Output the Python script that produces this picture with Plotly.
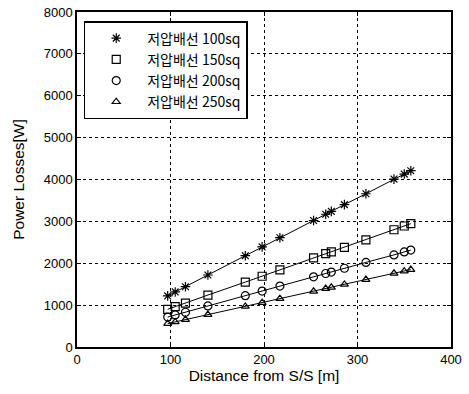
import plotly.graph_objects as go

distance = [97, 105, 116, 140, 180, 198, 217, 253, 266, 272, 286, 309, 339, 350, 357]
loss_100 = [1220, 1315, 1440, 1720, 2180, 2390, 2610, 3020, 3170, 3240, 3400, 3660, 4010, 4130, 4210]
loss_150 = [900, 965, 1050, 1240, 1550, 1690, 1840, 2130, 2230, 2270, 2380, 2560, 2800, 2890, 2945]
loss_200 = [715, 765, 830, 980, 1225, 1335, 1455, 1675, 1755, 1790, 1880, 2020, 2200, 2270, 2315]
loss_250 = [560, 600, 655, 775, 970, 1060, 1155, 1330, 1395, 1425, 1495, 1610, 1760, 1810, 1850]

series = [
    ("저압배선 100sq", loss_100, "asterisk-open", 8),
    ("저압배선 150sq", loss_150, "square-open", 8),
    ("저압배선 200sq", loss_200, "circle-open", 8),
    ("저압배선 250sq", loss_250, "triangle-up-open", 7),
]

fig = go.Figure()
for name, vals, sym, sz in series:
    fig.add_trace(go.Scatter(x=distance, y=vals, mode="lines", line=dict(color="black", width=1),
                             showlegend=False, hoverinfo="skip"))
    fig.add_trace(go.Scatter(x=distance, y=vals, mode="markers", name=name,
                             marker=dict(symbol=sym, size=sz, color="black", line=dict(color="black", width=1.2))))

font = "Liberation Sans, Arial, sans-serif"
fig.update_layout(
    width=469, height=394,
    margin=dict(l=77, r=18, t=12, b=47, autoexpand=False),
    paper_bgcolor="white", plot_bgcolor="white",
    font=dict(family=font, size=13, color="black"),
    legend=dict(x=0.018, y=0.973, xanchor="left", yanchor="top",
                bgcolor="white", bordercolor="black", borderwidth=1.5,
                font=dict(family="Noto Sans CJK KR, " + font, size=14),
                tracegroupgap=0, itemwidth=52),
)
axis_common = dict(showline=True, linecolor="black", linewidth=1.5, mirror="ticks",
                   ticks="inside", ticklen=4, tickcolor="black", tickwidth=1.2,
                   showgrid=True, gridcolor="black", griddash="3px,3px", gridwidth=1.2,
                   zeroline=False, tickfont=dict(size=13), automargin=False)
fig.update_xaxes(range=[0, 400], dtick=100,
                 title=dict(text="Distance from S/S [m]", standoff=2, font=dict(size=15.5)), **axis_common)
fig.update_yaxes(range=[0, 8000], dtick=1000,
                 title=dict(text="Power Losses[W]", standoff=15, font=dict(size=15.5)), **axis_common)

fig.write_html("out.html", config={"displayModeBar": False},
               post_script="document.body.style.margin='0';document.body.style.overflow='hidden';")
